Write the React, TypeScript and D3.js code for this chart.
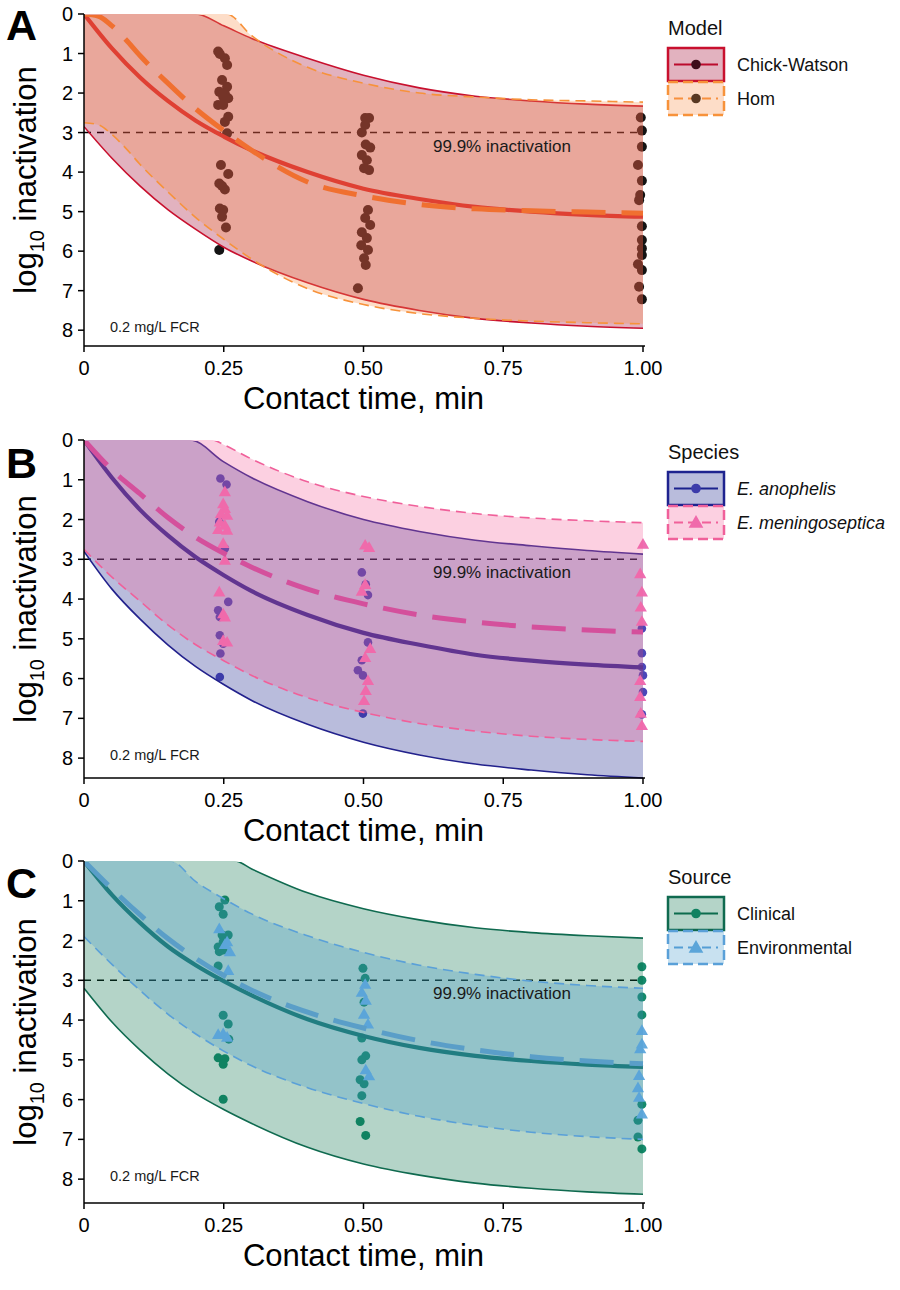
import React from 'react';
import * as d3 from 'd3';

type P = [number, number];

const FONT = "'Liberation Sans', Arial, sans-serif";

const T_GRID = [0, 0.05, 0.1, 0.15, 0.2, 0.25, 0.3, 0.4, 0.5, 0.6, 0.7, 0.8, 0.9, 1.0];
const T_GRID_HOM = [0, 0.025, 0.05, 0.075, 0.1, 0.15, 0.2, 0.25, 0.3, 0.4, 0.5, 0.6, 0.7, 0.8, 0.9, 1.0];

const X_TICKS = [0, 0.25, 0.5, 0.75, 1.0];
const X_TICK_LABELS = ['0', '0.25', '0.50', '0.75', '1.00'];
const Y_TICKS = [0, 1, 2, 3, 4, 5, 6, 7, 8];

// ---------- Panel A: model ----------
const cwMean = [0, 0.87, 1.6, 2.2, 2.7, 3.1, 3.45, 4.0, 4.42, 4.68, 4.88, 5.0, 5.08, 5.13];
const cwLower = [2.85, 3.65, 4.35, 4.95, 5.45, 5.9, 6.25, 6.8, 7.22, 7.5, 7.7, 7.82, 7.9, 7.95];
const cwUpper: P[] = [[0, 0], [0.2, 0], [0.25, 0.3], [0.3, 0.62], [0.4, 1.12], [0.5, 1.55], [0.6, 1.87], [0.7, 2.08], [0.8, 2.2], [0.9, 2.28], [1.0, 2.33]];
const homMean = [0, 0.05, 0.3, 0.65, 1.05, 1.75, 2.4, 2.95, 3.45, 4.25, 4.6, 4.82, 4.93, 4.98, 5.01, 5.04];
const homLower = [2.75, 2.8, 3.05, 3.4, 3.8, 4.5, 5.15, 5.7, 6.2, 6.95, 7.35, 7.58, 7.7, 7.77, 7.81, 7.84];
const homUpper: P[] = [[0, 0], [0.255, 0], [0.3, 0.55], [0.4, 1.35], [0.5, 1.75], [0.6, 2.0], [0.7, 2.1], [0.8, 2.17], [0.9, 2.2], [1.0, 2.23]];
const pointsA: P[] = [
  [0.240, 0.95], [0.243, 1.01], [0.252, 1.12], [0.256, 1.29], [0.247, 1.67], [0.256, 1.84], [0.242, 1.97], [0.252, 2.01],
  [0.249, 2.09], [0.258, 2.13], [0.240, 2.30], [0.249, 2.30], [0.258, 2.6], [0.252, 2.73], [0.256, 3.02], [0.245, 3.82],
  [0.258, 4.05], [0.242, 4.29], [0.247, 4.35], [0.252, 4.44], [0.243, 4.92], [0.249, 4.96], [0.247, 5.13], [0.254, 5.4], [0.242, 5.97],
  [0.503, 2.63], [0.510, 2.63], [0.503, 2.81], [0.497, 3.0], [0.504, 3.3], [0.512, 3.38], [0.497, 3.57], [0.506, 3.7],
  [0.501, 3.9], [0.510, 3.95], [0.508, 4.96], [0.503, 5.16], [0.512, 5.34], [0.497, 5.52], [0.506, 5.67], [0.496, 5.85],
  [0.508, 5.97], [0.501, 6.18], [0.504, 6.35], [0.490, 6.94],
  [0.996, 2.62], [0.998, 2.95], [0.998, 3.36], [0.991, 3.82], [0.998, 4.22], [0.995, 4.58], [0.993, 4.71], [0.998, 5.37],
  [0.998, 5.72], [0.998, 5.93], [0.998, 6.1], [0.991, 6.33], [0.998, 6.48], [0.993, 6.9], [0.998, 7.22],
];

// ---------- Panel B: species ----------
const anoMean = [0, 0.95, 1.75, 2.4, 2.95, 3.4, 3.8, 4.4, 4.85, 5.15, 5.4, 5.55, 5.65, 5.72];
const anoLower = [2.8, 3.75, 4.5, 5.15, 5.7, 6.15, 6.55, 7.15, 7.6, 7.92, 8.15, 8.3, 8.42, 8.5];
const anoUpper: P[] = [[0, 0], [0.19, 0], [0.25, 0.55], [0.3, 0.95], [0.4, 1.55], [0.5, 2.0], [0.6, 2.3], [0.7, 2.52], [0.8, 2.66], [0.9, 2.78], [1.0, 2.87]];
const menMean = [0, 0.75, 1.35, 1.95, 2.45, 2.85, 3.2, 3.75, 4.12, 4.4, 4.58, 4.7, 4.78, 4.83];
const menLower = [2.75, 3.45, 4.05, 4.65, 5.15, 5.55, 5.92, 6.48, 6.85, 7.13, 7.32, 7.45, 7.53, 7.58];
const menUpper: P[] = [[0, 0], [0.23, 0], [0.25, 0.12], [0.3, 0.48], [0.4, 1.05], [0.5, 1.42], [0.6, 1.67], [0.7, 1.85], [0.8, 1.96], [0.9, 2.03], [1.0, 2.08]];
const anoPoints: P[] = [
  [0.244, 0.97], [0.255, 1.12], [0.242, 2.06], [0.252, 2.73], [0.258, 4.07], [0.240, 4.28], [0.243, 4.45], [0.243, 4.91],
  [0.249, 5.12], [0.244, 5.37], [0.243, 5.96],
  [0.497, 3.33], [0.504, 3.63], [0.508, 3.9], [0.508, 5.09], [0.497, 5.54], [0.490, 5.79], [0.499, 5.92], [0.499, 6.88],
  [0.998, 4.74], [0.998, 5.36], [0.998, 5.71], [1.0, 5.92], [1.0, 6.34], [0.998, 6.9],
];
const menPoints: P[] = [
  [0.252, 1.3], [0.249, 1.6], [0.252, 1.72], [0.245, 1.85], [0.256, 1.89], [0.243, 2.06], [0.252, 2.14], [0.240, 2.25],
  [0.256, 2.27], [0.249, 2.6], [0.252, 3.02], [0.242, 3.82], [0.249, 4.37], [0.252, 4.45], [0.249, 5.04], [0.256, 5.08],
  [0.503, 2.64], [0.510, 2.7], [0.503, 3.63], [0.497, 3.8], [0.512, 5.24], [0.503, 5.47], [0.508, 6.05], [0.504, 6.3], [0.501, 6.55],
  [1.0, 2.62], [0.995, 3.36], [0.998, 3.82], [0.996, 4.2], [0.998, 4.56], [0.995, 6.05], [0.995, 6.45], [0.996, 6.87], [0.998, 7.18],
];

// ---------- Panel C: source ----------
const cliMean = [0, 0.85, 1.55, 2.15, 2.62, 3.02, 3.38, 3.98, 4.4, 4.7, 4.9, 5.03, 5.12, 5.18];
const cliLower = [3.2, 4.05, 4.75, 5.35, 5.85, 6.25, 6.6, 7.2, 7.62, 7.9, 8.1, 8.23, 8.32, 8.38];
const cliUpper: P[] = [[0, 0], [0.27, 0], [0.3, 0.2], [0.4, 0.8], [0.5, 1.2], [0.6, 1.48], [0.7, 1.68], [0.8, 1.8], [0.9, 1.88], [1.0, 1.94]];
const envMean = [0, 0.7, 1.35, 1.95, 2.45, 2.88, 3.25, 3.8, 4.2, 4.52, 4.75, 4.92, 5.03, 5.1];
const envLower = [1.9, 2.6, 3.25, 3.85, 4.35, 4.78, 5.15, 5.7, 6.1, 6.42, 6.65, 6.82, 6.93, 7.0];
const envUpper: P[] = [[0, 0], [0.155, 0], [0.2, 0.52], [0.25, 0.95], [0.3, 1.33], [0.4, 1.88], [0.5, 2.3], [0.6, 2.62], [0.7, 2.85], [0.8, 3.02], [0.9, 3.13], [1.0, 3.2]];
const cliPoints: P[] = [
  [0.252, 0.98], [0.242, 1.15], [0.249, 1.34], [0.247, 1.86], [0.258, 1.86], [0.249, 2.03], [0.240, 2.16], [0.249, 2.24],
  [0.242, 2.28], [0.240, 2.64], [0.249, 3.88], [0.258, 4.1], [0.259, 4.48], [0.240, 4.95], [0.252, 4.97], [0.249, 5.11], [0.249, 5.99],
  [0.499, 2.7], [0.503, 2.95], [0.501, 3.55], [0.497, 4.45], [0.504, 4.9], [0.497, 5.0], [0.494, 5.5], [0.501, 5.6],
  [0.497, 5.9], [0.494, 6.55], [0.504, 6.9],
  [0.998, 2.66], [0.998, 3.0], [0.998, 3.42], [0.998, 3.87], [0.998, 6.12], [0.991, 6.52], [0.991, 6.94], [0.998, 7.24],
];
const envPoints: P[] = [
  [0.242, 1.7], [0.256, 2.03], [0.252, 2.1], [0.261, 2.28], [0.258, 2.75], [0.240, 4.36], [0.249, 4.34], [0.256, 4.43],
  [0.503, 3.1], [0.497, 3.3], [0.504, 3.5], [0.501, 3.85], [0.508, 4.1], [0.504, 5.25], [0.510, 5.4],
  [0.998, 4.26], [0.995, 4.72], [0.998, 4.6], [0.993, 5.39], [0.991, 5.7], [0.993, 5.94], [0.998, 6.36],
];

const zip = (ts: number[], vs: number[]): P[] => ts.map((t, i) => [t, vs[i]] as P);

interface Series {
  name: string;
  italic?: boolean;
  fill: string;
  fillOpacity: number;
  stroke: string;
  meanColor: string;
  boundColor: string;
  dashed: boolean;
  mean: P[];
  upper: P[];
  lower: P[];
  points: P[];
  marker: 'circle' | 'triangle';
  pointColor: string;
  pointR: number;
}

interface PanelCfg {
  id: string;
  letter: string;
  top: number;
  bottom: number;
  yMax: number;
  legendTitle: string;
  legendTop: number;
  letterY: number;
  series: Series[];
}

const panels: PanelCfg[] = [
  {
    id: 'A', letter: 'A', top: 14, bottom: 346, yMax: 8.4, legendTitle: 'Model', legendTop: 48, letterY: 40,
    series: [
      {
        name: 'Chick-Watson', fill: '#a0002c', fillOpacity: 0.3, stroke: '#c8102e', meanColor: '#d41f2a',
        boundColor: '#c8102e', dashed: false, mean: zip(T_GRID, cwMean), upper: cwUpper, lower: zip(T_GRID, cwLower),
        points: pointsA, marker: 'circle', pointColor: '#141414', pointR: 5,
      },
      {
        name: 'Hom', fill: '#f8904a', fillOpacity: 0.3, stroke: '#f7923a', meanColor: '#f07030',
        boundColor: '#f7923a', dashed: true, mean: zip(T_GRID_HOM, homMean), upper: homUpper, lower: zip(T_GRID_HOM, homLower),
        points: [], marker: 'circle', pointColor: '#141414', pointR: 5,
      },
    ],
  },
  {
    id: 'B', letter: 'B', top: 440, bottom: 778, yMax: 8.5, legendTitle: 'Species', legendTop: 472, letterY: 478,
    series: [
      {
        name: 'E. anophelis', italic: true, fill: '#16208a', fillOpacity: 0.3, stroke: '#1e238f', meanColor: '#22218c',
        boundColor: '#22218c', dashed: false, mean: zip(T_GRID, anoMean), upper: anoUpper, lower: zip(T_GRID, anoLower),
        points: anoPoints, marker: 'circle', pointColor: '#4c47b8', pointR: 4.3,
      },
      {
        name: 'E. meningoseptica', italic: true, fill: '#f5629b', fillOpacity: 0.3, stroke: '#f0609a', meanColor: '#d4509c',
        boundColor: '#f0609a', dashed: true, mean: zip(T_GRID, menMean), upper: menUpper, lower: zip(T_GRID, menLower),
        points: menPoints, marker: 'triangle', pointColor: '#ee6eb2', pointR: 5,
      },
    ],
  },
  {
    id: 'C', letter: 'C', top: 861, bottom: 1203, yMax: 8.6, legendTitle: 'Source', legendTop: 897, letterY: 898,
    series: [
      {
        name: 'Clinical', fill: '#057048', fillOpacity: 0.3, stroke: '#0f6a4f', meanColor: '#117060',
        boundColor: '#0f6a4f', dashed: false, mean: zip(T_GRID, cliMean), upper: cliUpper, lower: zip(T_GRID, cliLower),
        points: cliPoints, marker: 'circle', pointColor: '#158a6c', pointR: 4.5,
      },
      {
        name: 'Environmental', fill: '#489bcd', fillOpacity: 0.3, stroke: '#5aa0d8', meanColor: '#5a9ec8',
        boundColor: '#5aa0d8', dashed: true, mean: zip(T_GRID, envMean), upper: envUpper, lower: zip(T_GRID, envLower),
        points: envPoints, marker: 'triangle', pointColor: '#64aade', pointR: 5,
      },
    ],
  },
];

const X0 = 84;
const X1 = 643;

function Marker({ kind, cx, cy, r, color }: { kind: string; cx: number; cy: number; r: number; color: string }) {
  if (kind === 'circle') return <circle cx={cx} cy={cy} r={r} fill={color} />;
  const sym = d3.symbol().type(d3.symbolTriangle).size(r * r * 2.6)();
  return <path d={sym || ''} transform={`translate(${cx},${cy + 1})`} fill={color} />;
}

function Panel({ cfg }: { cfg: PanelCfg }) {
  const x = d3.scaleLinear().domain([0, 1]).range([X0, X1]);
  const y = d3.scaleLinear().domain([0, cfg.yMax]).range([cfg.top, cfg.bottom]);
  const line = d3.line<P>().x(d => x(d[0])).y(d => y(d[1])).curve(d3.curveMonotoneX);
  const clipId = `clip-${cfg.id}`;

  const areaPath = (s: Series) => {
    const up = line(s.upper) || '';
    const lo = line([...s.lower].reverse()) || '';
    return up + 'L' + lo.slice(1) + 'Z';
  };

  const legendX = 668;
  const boxW = 56;
  const boxH = 33;

  return (
    <g>
      <defs>
        <clipPath id={clipId}>
          <rect x={X0} y={cfg.top + 1} width={X1 - X0 + 10} height={cfg.bottom - cfg.top} />
        </clipPath>
      </defs>
      <line x1={x(0)} x2={x(1)} y1={y(3)} y2={y(3)} stroke="#000" strokeWidth={1.5} strokeDasharray="7,6" />
      {cfg.series.map((s, i) => (
        <g key={i}>
          {s.points.map((p, j) => (
            <Marker key={j} kind={s.marker} cx={x(p[0])} cy={y(p[1])} r={s.pointR} color={s.pointColor} />
          ))}
          <path d={areaPath(s)} fill={s.fill} fillOpacity={s.fillOpacity} stroke="none" />
          <g clipPath={`url(#${clipId})`}>
            <path d={line(s.upper) || ''} fill="none" stroke={s.boundColor} strokeWidth={1.6}
              strokeDasharray={s.dashed ? '10,6' : undefined} />
            <path d={line(s.lower) || ''} fill="none" stroke={s.boundColor} strokeWidth={1.6}
              strokeDasharray={s.dashed ? '10,6' : undefined} />
            <path d={line(s.mean) || ''} fill="none" stroke={s.meanColor} strokeWidth={s.dashed ? 5 : 4.2}
              strokeDasharray={s.dashed ? '34,16' : undefined} />
          </g>
        </g>
      ))}
      <text x={433} y={y(3) + 19} fontFamily={FONT} fontSize={17} fill="#1a1a1a">99.9% inactivation</text>
      <text x={110} y={y(8) + 2} fontFamily={FONT} fontSize={14.5} fill="#1a1a1a">0.2 mg/L FCR</text>

      <line x1={X0} x2={X0} y1={cfg.top} y2={cfg.bottom} stroke="#000" strokeWidth={1.5} />
      <line x1={X0} x2={X1 + 2} y1={cfg.bottom} y2={cfg.bottom} stroke="#000" strokeWidth={1.5} />
      {Y_TICKS.map(t => (
        <g key={t}>
          <line x1={X0 - 6} x2={X0} y1={y(t)} y2={y(t)} stroke="#000" strokeWidth={1.5} />
          <text x={X0 - 11} y={y(t)} dy="0.35em" textAnchor="end" fontFamily={FONT} fontSize={20} fill="#000">{t}</text>
        </g>
      ))}
      {X_TICKS.map((t, i) => (
        <g key={t}>
          <line x1={x(t)} x2={x(t)} y1={cfg.bottom} y2={cfg.bottom + 6} stroke="#000" strokeWidth={1.5} />
          <text x={x(t)} y={cfg.bottom + 29} textAnchor="middle" fontFamily={FONT} fontSize={20} fill="#000">{X_TICK_LABELS[i]}</text>
        </g>
      ))}
      <text x={(X0 + X1) / 2} y={cfg.bottom + 63} textAnchor="middle" fontFamily={FONT} fontSize={31} fill="#000">Contact time, min</text>
      <text transform={`translate(36,${(cfg.top + cfg.bottom) / 2}) rotate(-90)`} textAnchor="middle" fontFamily={FONT} fontSize={31} fill="#000">
        <tspan>log</tspan>
        <tspan fontSize={20} dy={8}>10</tspan>
        <tspan dy={-8}> inactivation</tspan>
      </text>
      <text x={6} y={cfg.letterY} fontFamily={FONT} fontSize={43} fontWeight="bold" fill="#000">{cfg.letter}</text>

      <text x={legendX} y={cfg.legendTop - 13} fontFamily={FONT} fontSize={20} fill="#111">{cfg.legendTitle}</text>
      {cfg.series.map((s, i) => {
        const by = cfg.legendTop + i * (boxH + 1);
        const cy = by + boxH / 2;
        return (
          <g key={i}>
            <line x1={legendX + 6} x2={legendX + boxW - 6} y1={cy} y2={cy} stroke={s.stroke} strokeWidth={2}
              strokeDasharray={s.dashed ? '9,5' : undefined} />
            <Marker kind={s.marker} cx={legendX + boxW / 2} cy={cy} r={s.marker === 'circle' ? 4.8 : 6} color={s.pointColor} />
            <rect x={legendX} y={by} width={boxW} height={boxH} fill={s.fill} fillOpacity={s.fillOpacity}
              stroke={s.stroke} strokeWidth={2.5} strokeDasharray={s.dashed ? '10,5' : undefined} />
            <text x={legendX + 69} y={cy + 6.5} fontFamily={FONT} fontSize={18} fontStyle={s.italic ? 'italic' : 'normal'} fill="#111">{s.name}</text>
          </g>
        );
      })}
    </g>
  );
}

export default function App() {
  return (
    <svg width={900} height={1290} style={{ position: 'absolute', left: 0, top: 0, background: '#fff' }}>
      <rect x={0} y={0} width={900} height={1290} fill="#fff" />
      {panels.map(p => <Panel key={p.id} cfg={p} />)}
    </svg>
  );
}
